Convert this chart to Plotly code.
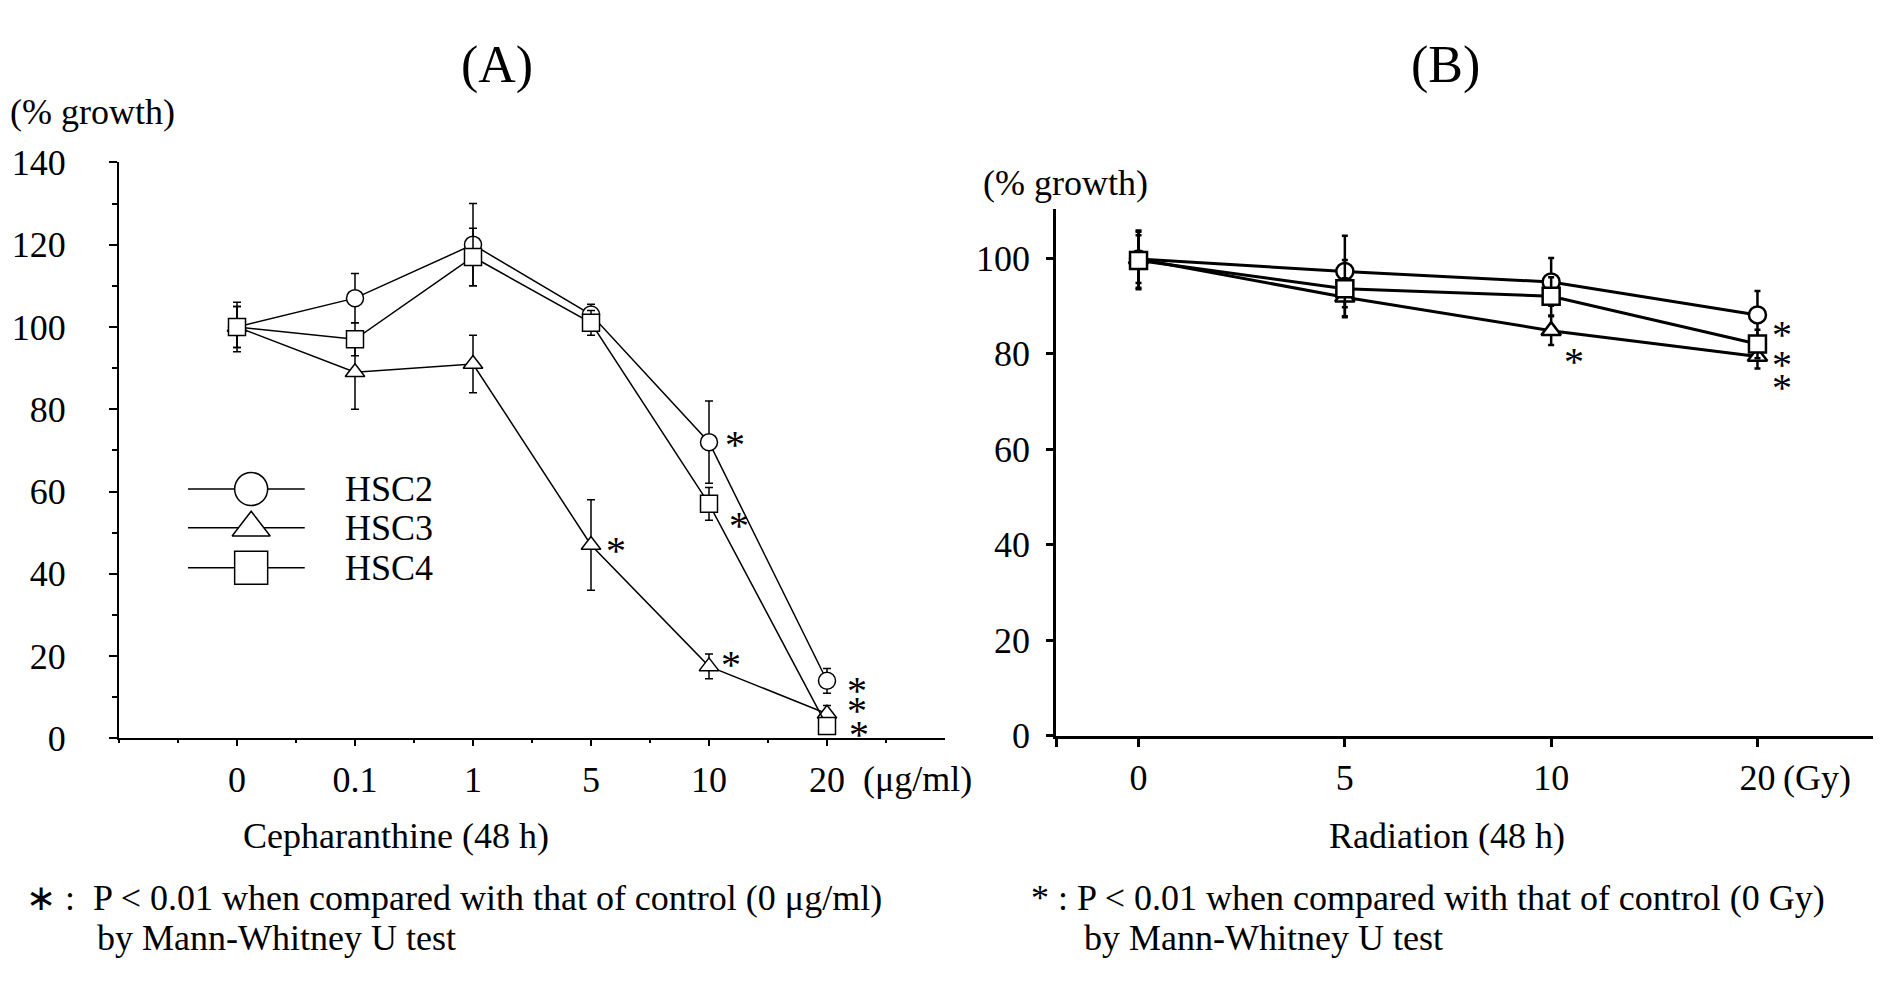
import plotly.graph_objects as go

# ---- data ----
conc_labels = ["0", "0.1", "1", "5", "10", "20"]
hsc2_a = [100, 107, 120, 103, 72, 14]
hsc2_a_err = [6, 6, 10, 2.5, 10, 3]
hsc3_a = [100, 89, 91, 47, 17.5, 6]
hsc3_a_err = [5, 9, 7, 11, 3, 2]
hsc4_a = [100, 97, 117, 101, 57, 3]
hsc4_a_err = [5, 4, 7, 3, 4, 1.5]

dose_labels = ["0", "5", "10", "20"]
hsc2_b = [99.8, 97.2, 95.0, 88.1]
hsc2_b_err = [6, 7.5, 5, 5]
hsc3_b = [99.8, 91.8, 84.8, 79.4]
hsc3_b_err = [5, 4, 3, 2.5]
hsc4_b = [99.5, 93.6, 92.0, 82.0]
hsc4_b_err = [6, 6, 4, 3]

# significance asterisks (P < 0.01), in axis units
sig_a_x = [4.22, 4.25, 3.21, 4.19, 5.25, 5.25, 5.27]
sig_a_y = [73.4, 53.6, 47.5, 19.8, 13.5, 8.8, 3.0]
sig_b_x = [2.11, 3.12, 3.12, 3.12]
sig_b_y = [80.0, 85.6, 79.3, 74.5]

names = ["HSC2", "HSC3", "HSC4"]
symbols = ["circle", "triangle-up", "square"]

W, H = 1890, 1001
FONT = "Liberation Serif, Times New Roman, serif"
OFF = 8  # the page body margin shifts the figure by this much


def px(x):
    return (x - OFF) / W


def py(y):
    return 1 - (y - OFF) / H


fig = go.Figure()

series_a = [(hsc2_a, hsc2_a_err), (hsc3_a, hsc3_a_err), (hsc4_a, hsc4_a_err)]
series_b = [(hsc2_b, hsc2_b_err), (hsc3_b, hsc3_b_err), (hsc4_b, hsc4_b_err)]

for (vals, err), name, sym in zip(series_a, names, symbols):
    fig.add_trace(go.Scatter(
        x=list(range(len(conc_labels))), y=vals, name=name,
        mode='lines+markers', xaxis='x', yaxis='y', showlegend=False,
        line=dict(color='black', width=1.5),
        marker=dict(symbol=sym, size=17, color='white',
                    line=dict(color='black', width=1.5)),
        error_y=dict(type='data', array=err, color='black',
                     thickness=1.5, width=4)))

for (vals, err), name, sym in zip(series_b, names, symbols):
    fig.add_trace(go.Scatter(
        x=list(range(len(dose_labels))), y=vals, name=name,
        mode='lines+markers', xaxis='x2', yaxis='y2', showlegend=False,
        line=dict(color='black', width=3),
        marker=dict(symbol=sym, size=17, color='white',
                    line=dict(color='black', width=2.5)),
        error_y=dict(type='data', array=err, color='black',
                     thickness=2.5, width=3)))

# hand-drawn style legend inside panel A
leg_y = [60.6, 51.2, 41.5]
for name, sym, ly in zip(names, symbols, leg_y):
    fig.add_trace(go.Scatter(
        x=[-0.415, 0.574], y=[ly, ly], mode='lines', xaxis='x', yaxis='y',
        line=dict(color='black', width=1.5), showlegend=False,
        hoverinfo='skip'))
    fig.add_trace(go.Scatter(
        x=[0.12], y=[ly], mode='markers', xaxis='x', yaxis='y',
        marker=dict(symbol=sym, size=33, color='white',
                    line=dict(color='black', width=1.5)),
        showlegend=False, hoverinfo='skip'))
    fig.add_annotation(x=0.9, y=ly, xref='x', yref='y', text=name,
                       showarrow=False, xanchor='left', yanchor='middle',
                       font=dict(size=36))

for sx, sy in zip(sig_a_x, sig_a_y):
    fig.add_annotation(x=sx, y=sy, xref='x', yref='y', text='*',
                       showarrow=False, xanchor='center', yanchor='middle',
                       yshift=-8, font=dict(size=40))
for sx, sy in zip(sig_b_x, sig_b_y):
    fig.add_annotation(x=sx, y=sy, xref='x2', yref='y2', text='*',
                       showarrow=False, xanchor='center', yanchor='middle',
                       yshift=-8, font=dict(size=40))

axis_common = dict(showline=True, linecolor='black', showgrid=False,
                   zeroline=False, ticks='outside', tickcolor='black',
                   tickfont=dict(size=36, color='black'))

fig.update_layout(
    width=W, height=H,
    margin=dict(l=0, r=0, t=0, b=0),
    paper_bgcolor='white', plot_bgcolor='white',
    font=dict(family=FONT, color='black', size=36),
    xaxis=dict(axis_common, domain=[px(119), px(945)], range=[-1, 6],
               anchor='y', linewidth=2,
               tickvals=list(range(len(conc_labels))), ticktext=conc_labels,
               ticklen=6, tickwidth=2, ticklabelstandoff=2,
               minor=dict(tickvals=[-1, -0.5, 0.5, 1.5, 2.5, 3.5, 4.5, 5.5],
                          ticklen=3, tickwidth=2, tickcolor='black',
                          ticks='outside')),
    yaxis=dict(axis_common, domain=[py(749), py(149)], range=[0, 140],
               anchor='x', linewidth=2, dtick=20, ticklen=8, tickwidth=2,
               ticklabelstandoff=36,
               minor=dict(dtick=10, ticklen=5, tickwidth=1.5,
                          tickcolor='black', ticks='outside')),
    xaxis2=dict(axis_common, domain=[px(1056), px(1873)], range=[-0.4, 3.56],
                anchor='y2', linewidth=2.5,
                tickvals=[-0.4] + list(range(len(dose_labels))),
                ticktext=[""] + dose_labels,
                ticklen=9, tickwidth=2.5, ticklabelstandoff=0),
    yaxis2=dict(axis_common, domain=[py(746), py(198)], range=[0, 110.2],
                anchor='x2', linewidth=2.5, dtick=20, ticklen=7,
                tickwidth=2.5, ticklabelstandoff=9),
)

texts = [
    ("(A)", 497, 48, 'center', 52),
    ("(B)", 1445, 48, 'center', 52),
    ("(% growth)", 8, 97, 'left', 36),
    ("(% growth)", 981, 170, 'left', 36),
    ("(μg/ml)", 861, 791, 'left', 36),
    ("(Gy)", 1781, 790, 'left', 36),
    ("Cepharanthine (48 h)", 396, 851, 'center', 36),
    ("Radiation (48 h)", 1447, 851, 'center', 36),
    ("∗ :  P < 0.01 when compared with that of control (0 μg/ml)", 24, 915, 'left', 36),
    ("by Mann-Whitney U test", 95, 957, 'left', 36),
    ("* : P < 0.01 when compared with that of control (0 Gy)", 1029, 915, 'left', 36),
    ("by Mann-Whitney U test", 1082, 957, 'left', 36),
]
for t, x, y, anc, size in texts:
    fig.add_annotation(x=px(x), y=py(y), xref='paper', yref='paper', text=t,
                       showarrow=False, xanchor=anc, yanchor='middle',
                       font=dict(size=size))

fig.write_html("out.html")
